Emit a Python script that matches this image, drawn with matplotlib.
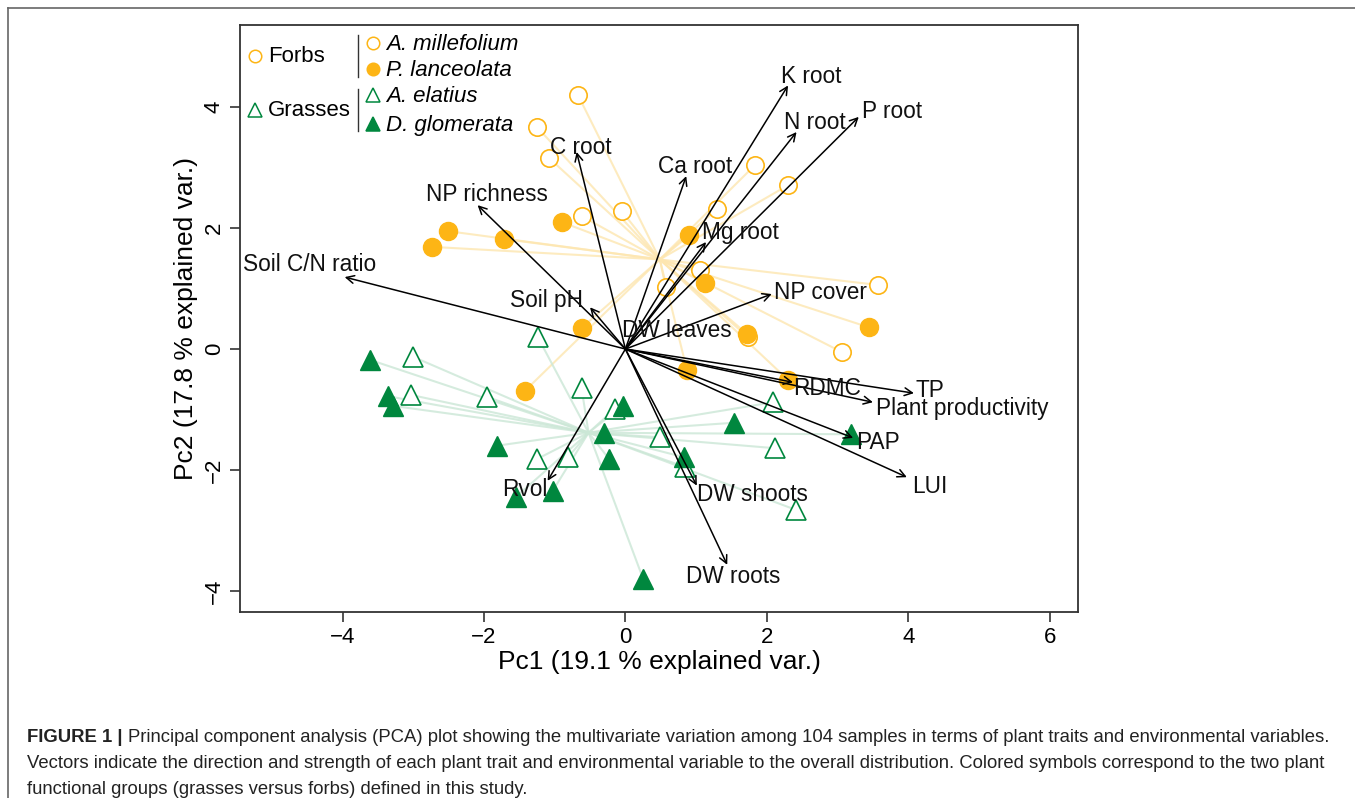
import matplotlib
matplotlib.use("Agg")
import matplotlib.pyplot as plt
from matplotlib.lines import Line2D
import numpy as np

plt.rcParams['font.family'] = ['Liberation Sans', 'DejaVu Sans']

# ---------------- data ----------------
millef_x = [-0.67, -1.25, -1.08, -0.62, -0.05, 1.83, 2.30, 1.29, 1.05, 0.57, 3.57, 3.06, 1.73]
millef_y = [4.20, 3.67, 3.16, 2.20, 2.28, 3.04, 2.71, 2.31, 1.31, 1.02, 1.06, -0.05, 0.20]
lanc_x = [-2.51, -2.74, -1.72, -0.90, -0.62, 0.90, 1.12, 1.72, 3.44, -1.42, 0.87, 2.30]
lanc_y = [1.95, 1.69, 1.82, 2.10, 0.35, 1.88, 1.09, 0.25, 0.36, -0.69, -0.35, -0.51]
elat_x = [-1.24, -3.00, -3.03, -1.96, -0.62, -0.15, 0.49, -1.25, -0.81, 0.84, 2.09, 2.11, 2.41]
elat_y = [0.20, -0.13, -0.76, -0.79, -0.65, -0.99, -1.46, -1.82, -1.79, -1.95, -0.88, -1.64, -2.66]
glom_x = [-3.61, -3.36, -3.29, -1.82, -1.55, -1.03, -0.04, -0.30, -0.23, 0.83, 1.53, 0.25, 3.19]
glom_y = [-0.18, -0.78, -0.94, -1.60, -2.45, -2.35, -0.94, -1.39, -1.82, -1.79, -1.22, -3.80, -1.41]

var_names = ["K root", "N root", "P root", "Ca root", "Mg root", "NP cover", "C root",
             "NP richness", "Soil C/N ratio", "Soil pH", "DW leaves", "RDMC", "TP",
             "Plant productivity", "PAP", "LUI", "DW shoots", "DW roots", "Rvol"]
var_x = [2.30, 2.42, 3.30, 0.86, 1.14, 2.07, -0.69, -2.09, -3.97, -0.50, 0.02, 2.37, 4.08,
         3.50, 3.22, 3.98, 1.01, 1.44, -1.10]
var_y = [4.36, 3.59, 3.84, 2.86, 1.77, 0.91, 3.26, 2.38, 1.19, 0.69, 0.01, -0.55, -0.73,
         -0.88, -1.47, -2.12, -2.26, -3.57, -2.18]
lab_x = [2.62, 2.68, 3.77, 0.98, 1.62, 2.76, -0.63, -1.96, -4.46, -1.11, 0.73, 2.85, 4.30,
         4.76, 3.57, 4.30, 1.79, 1.53, -1.42]
lab_y = [4.51, 3.75, 3.93, 3.02, 1.93, 0.93, 3.34, 2.56, 1.39, 0.81, 0.31, -0.65, -0.68,
         -0.99, -1.55, -2.28, -2.41, -3.77, -2.33]

xticks = [-4, -2, 0, 2, 4, 6]
yticks = [-4, -2, 0, 2, 4]
xlabel = "Pc1 (19.1 % explained var.)"
ylabel = "Pc2 (17.8 % explained var.)"

ORANGE = "#FDB515"
GREEN = "#00873E"
ORANGE_SP = "#FDE6B0"
GREEN_SP = "#CBE7D6"

# ---------------- figure ----------------
W, H = 1355, 798
fig = plt.figure(figsize=(W / 100, H / 100), dpi=100)
ax = fig.add_axes([240 / W, 1 - 612 / H, (1078 - 240) / W, (612 - 25) / H])
ax.set_xlim(-5.45, 6.40)
ax.set_ylim(-4.35, 5.36)

# spider lines to group centroids
fx = np.array(millef_x + lanc_x); fy = np.array(millef_y + lanc_y)
gx = np.array(elat_x + glom_x); gy = np.array(elat_y + glom_y)
for xs, ys, c in [(fx, fy, ORANGE_SP), (gx, gy, GREEN_SP)]:
    cx, cy = xs.mean(), ys.mean()
    for x, y in zip(xs, ys):
        ax.plot([cx, x], [cy, y], color=c, lw=1.5, alpha=0.8, zorder=1,
                solid_capstyle='butt')

# points
ax.plot(millef_x, millef_y, 'o', ms=12.5, mfc='white', mec=ORANGE, mew=1.2, zorder=2, ls='none')
ax.plot(lanc_x, lanc_y, 'o', ms=13, mfc=ORANGE, mec=ORANGE, mew=1.0, zorder=2, ls='none')
ax.plot(elat_x, elat_y, '^', ms=15, mfc='white', mec=GREEN, mew=1.2, zorder=2, ls='none')
ax.plot(glom_x, glom_y, '^', ms=15, mfc=GREEN, mec=GREEN, mew=1.0, zorder=2, ls='none')

# variable arrows
for name, vx, vy, lx, ly in zip(var_names, var_x, var_y, lab_x, lab_y):
    if np.hypot(vx, vy) > 0.1:
        ax.annotate("", xy=(vx, vy), xytext=(0, 0),
                    arrowprops=dict(arrowstyle="->", color="black", lw=1.1,
                                    shrinkA=0, shrinkB=0, mutation_scale=14),
                    zorder=3)
    ax.text(lx, ly, name, fontsize=16.3, ha='center', va='center', color='#111111', zorder=4)

# axes styling
for s in ax.spines.values():
    s.set_color('#333333')
    s.set_linewidth(1.3)
ax.set_xticks(xticks)
ax.set_yticks(yticks)
ax.set_xticklabels([f"{t}".replace('-', '\u2212') for t in xticks], fontsize=16)
ax.set_yticklabels([f"{t}".replace('-', '\u2212') for t in yticks], fontsize=16,
                   rotation=90, va='center')
ax.tick_params(direction='out', length=7, width=1.2, color='#333333', pad=4)
ax.set_xlabel(xlabel, fontsize=19, labelpad=1)
ax.set_ylabel(ylabel, fontsize=19, labelpad=4)

# legend (manual, R-style)
def axf(px, py):
    return ((px - 240) / 838, (612 - py) / 587)

tA = ax.transAxes
for (px, py), mk, fc, ec, txt in [((255, 56), 'o', 'white', ORANGE, "Forbs"),
                                  ((255, 110), '^', 'white', GREEN, "Grasses")]:
    x0, y0 = axf(px, py)
    ax.plot([x0], [y0], mk, ms=9 if mk == 'o' else 10, mfc=fc, mec=ec, mew=1.1,
            transform=tA, clip_on=False, zorder=5)
    ax.text(axf(268, py + 1)[0], axf(0, py + 1)[1], txt, fontsize=16, va='center',
            ha='left', transform=tA)

for y1, y2 in [(35, 77), (89, 131)]:
    xb = axf(358, 0)[0]
    ax.plot([xb, xb], [axf(0, y1)[1], axf(0, y2)[1]], color='#333333', lw=1.0, transform=tA)

for py, mk, fc, ec, txt in [(43, 'o', 'white', ORANGE, "A. millefolium"),
                            (69, 'o', ORANGE, ORANGE, "P. lanceolata"),
                            (95, '^', 'white', GREEN, "A. elatius"),
                            (124, '^', GREEN, GREEN, "D. glomerata")]:
    x0, y0 = axf(373, py)
    ax.plot([x0], [y0], mk, ms=9 if mk == 'o' else 10, mfc=fc, mec=ec, mew=1.1,
            transform=tA, zorder=5)
    ax.text(axf(386, py + 1)[0], axf(0, py + 1)[1], txt, fontsize=16, style='italic',
            va='center', ha='left', transform=tA)

# page frame
fig.add_artist(Line2D([8 / W, 8 / W], [0, 1 - 8 / H], color='#666666', lw=1.2,
                      transform=fig.transFigure))
fig.add_artist(Line2D([8 / W, 1], [1 - 8 / H, 1 - 8 / H], color='#666666', lw=1.2,
                      transform=fig.transFigure))

# caption
cap_lines = [
    ("FIGURE 1 | ", "Principal component analysis (PCA) plot showing the multivariate variation among 104 samples in terms of plant traits and environmental variables."),
    ("", "Vectors indicate the direction and strength of each plant trait and environmental variable to the overall distribution. Colored symbols correspond to the two plant"),
    ("", "functional groups (grasses versus forbs) defined in this study."),
]
cap_y = [737, 763, 789]
fig.canvas.draw()
renderer = fig.canvas.get_renderer()
for (bold, rest), py in zip(cap_lines, cap_y):
    x = 27 / W
    yf = 1 - py / H
    if bold:
        tb = fig.text(x, yf, bold, fontsize=13.3, fontweight='bold', va='center', ha='left',
                      color='#222222')
        bb = tb.get_window_extent(renderer=renderer)
        x = bb.x1 / W
    fig.text(x, yf, rest, fontsize=13.3, va='center', ha='left', color='#222222')

fig.savefig("out.png", dpi=100)
